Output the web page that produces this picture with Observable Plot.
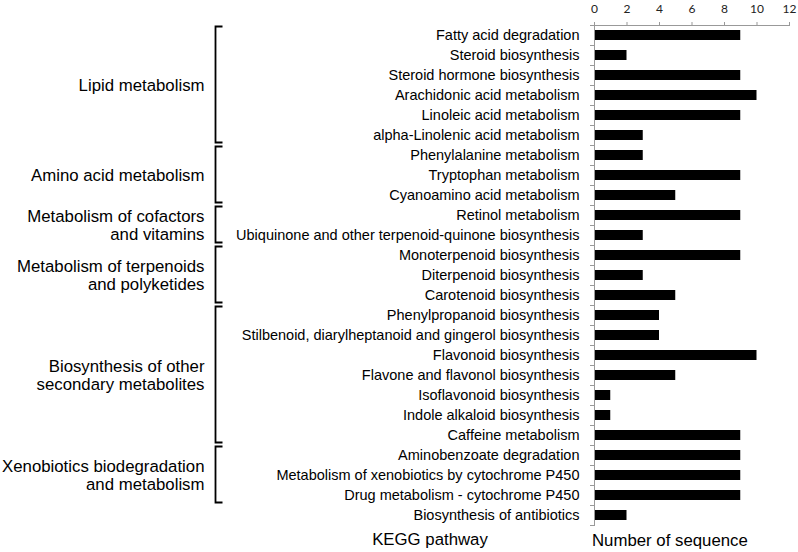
<!DOCTYPE html>
<html><head><meta charset="utf-8">
<script src="https://cdn.jsdelivr.net/npm/d3@7"></script>
<script src="https://cdn.jsdelivr.net/npm/@observablehq/plot@0.6"></script>
<style>html,body{margin:0;padding:0;background:#fff} #chart svg{display:block}</style>
</head><body><div id="chart"></div>
<script>
const pathways = [
  "Fatty acid degradation",
  "Steroid biosynthesis",
  "Steroid hormone biosynthesis",
  "Arachidonic acid metabolism",
  "Linoleic acid metabolism",
  "alpha-Linolenic acid metabolism",
  "Phenylalanine metabolism",
  "Tryptophan metabolism",
  "Cyanoamino acid metabolism",
  "Retinol metabolism",
  "Ubiquinone and other terpenoid-quinone biosynthesis",
  "Monoterpenoid biosynthesis",
  "Diterpenoid biosynthesis",
  "Carotenoid biosynthesis",
  "Phenylpropanoid biosynthesis",
  "Stilbenoid, diarylheptanoid and gingerol biosynthesis",
  "Flavonoid biosynthesis",
  "Flavone and flavonol biosynthesis",
  "Isoflavonoid biosynthesis",
  "Indole alkaloid biosynthesis",
  "Caffeine metabolism",
  "Aminobenzoate degradation",
  "Metabolism of xenobiotics by cytochrome P450",
  "Drug metabolism - cytochrome P450",
  "Biosynthesis of antibiotics"
];
const sequences = [9, 2, 9, 10, 9, 3, 3, 9, 5, 9, 3, 9, 3, 5, 4, 4, 10, 5, 1, 1, 9, 9, 9, 9, 2];

const groupNames = [
  "Lipid metabolism",
  "Amino acid metabolism",
  "Metabolism of cofactors\nand vitamins",
  "Metabolism of terpenoids\nand polyketides",
  "Biosynthesis of other\nsecondary metabolites",
  "Xenobiotics biodegradation\nand metabolism"
];
const groupStart = [0, 6, 9, 11, 14, 21];
const groupEnd = [5, 8, 10, 13, 20, 23];

const xTicks = [0, 2, 4, 6, 8, 10, 12];
const axisTitles = ["KEGG pathway", "Number of sequence"];

const data = pathways.map((p, i) => ({pathway: p, value: sequences[i], i}));
const groups = groupNames.map((g, k) => ({name: g, start: groupStart[k], end: groupEnd[k]}));
const bounds = d3.range(pathways.length + 1).map(i => i - 0.5);

const plot = Plot.plot({
  width: 798,
  height: 552,
  marginLeft: 594,
  marginRight: 9,
  marginTop: 25,
  marginBottom: 27,
  x: {domain: [0, 12]},
  y: {domain: [-0.5, pathways.length - 0.5], reverse: true},
  style: {fontFamily: "'Liberation Sans', Arial, sans-serif", background: "#fff", overflow: "visible"},
  marks: [
    Plot.rect(data, {x1: 0, x2: "value", y1: d => d.i - 0.5, y2: d => d.i + 0.5, insetTop: 5, insetBottom: 5, fill: "#000"}),
    Plot.axisX({anchor: "top", ticks: xTicks, tickSize: 4, tickPadding: 9, stroke: "#999", fill: "#222", fontSize: 12, fontFamily: "Lato", label: null}),
    Plot.frame({anchor: "top", stroke: "#999"}),
    Plot.axisY({ticks: bounds, tickSize: 4, tickFormat: () => "", stroke: "#999", label: null}),
    Plot.frame({anchor: "left", stroke: "#999"}),
    Plot.text(data, {y: "i", text: "pathway", frameAnchor: "left", dx: -15, textAnchor: "end", fontSize: 14.5, fill: "#000"}),
    Plot.text(groups, {y: d => (d.start + d.end) / 2, text: "name", frameAnchor: "left", dx: -390, textAnchor: "end", fontSize: 16.8, lineHeight: 1.05, fill: "#000"})
  ]
});

const svg = d3.select(plot);
const ys = plot.scale("y");
groups.forEach(g => {
  const top = ys.apply(g.start - 0.5) + 1.5;
  const bot = ys.apply(g.end + 0.5) - 2.5;
  svg.append("path")
    .attr("d", `M222.5,${top} L215.5,${top} L215.5,${bot} L222.5,${bot}`)
    .attr("fill", "none").attr("stroke", "#000").attr("stroke-width", 1.8);
});
svg.append("text").attr("x", 430).attr("y", 545).attr("text-anchor", "middle")
  .attr("font-size", 16.8).attr("fill", "#000").text(axisTitles[0]);
svg.append("text").attr("x", 592).attr("y", 546).attr("text-anchor", "start")
  .attr("font-size", 16.8).attr("fill", "#000").text(axisTitles[1]);

document.getElementById("chart").append(plot);
</script>
</body></html>
